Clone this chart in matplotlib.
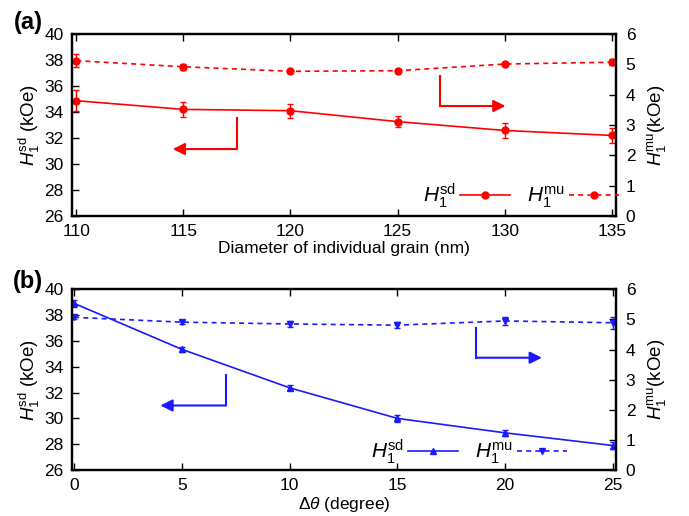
import matplotlib
matplotlib.use("Agg")
from matplotlib import pyplot as plt
from matplotlib.lines import Line2D

plt.rcParams['font.family'] = ['Liberation Sans', 'DejaVu Sans']
plt.rcParams['mathtext.fontset'] = 'custom'
plt.rcParams['mathtext.rm'] = 'Liberation Sans'
plt.rcParams['mathtext.it'] = 'Liberation Sans:italic'

# (a) diameter of individual grain
diam = [110, 115, 120, 125, 130, 135]
sd_a = [34.87, 34.2, 34.1, 33.26, 32.58, 32.2]
sd_a_err = [0.8, 0.55, 0.55, 0.45, 0.6, 0.6]
mu_a = [5.12, 4.92, 4.77, 4.79, 5.01, 5.07]
mu_a_err = [0.22, 0.1, 0.07, 0.07, 0.08, 0.1]

# (b) delta theta
dtheta = [0, 5, 10, 15, 20, 25]
sd_b = [38.91, 35.35, 32.37, 30.0, 28.88, 27.9]
sd_b_err = [0.25, 0.2, 0.2, 0.3, 0.25, 0.3]
mu_b = [5.07, 4.91, 4.85, 4.81, 4.95, 4.89]
mu_b_err = [0.05, 0.06, 0.1, 0.1, 0.12, 0.2]

# arrows: (corner x, top y, bottom y, tip x) in data coords of the left axis
arrows_a = [(117.5, 33.54, 31.15, 114.5), (126.97, 36.77, 34.46, 130.04)]
arrows_b = [(7.05, 33.36, 31.0, 4.0), (18.67, 37.02, 34.7, 21.71)]

red = '#ff0000'
blue = '#1a1aff'
dash = (0, (3, 2.5))

fig = plt.figure(figsize=(6.89, 5.16), dpi=100)


def panel(rect, x, sd, sde, mu, mue, col, m1, m2, xlim, xticks, xlabel, tag, tag_y, arrows, leg_xy):
    ax = fig.add_axes(rect)
    ax2 = ax.twinx()
    ax.errorbar(x, sd, yerr=sde, color=col, marker=m1, ms=5, lw=1.2,
                capsize=2.5, elinewidth=1.0, capthick=1.0)
    ax2.errorbar(x, mu, yerr=mue, color=col, marker=m2, ms=5, lw=1.2, ls=dash,
                 capsize=2.5, elinewidth=1.0, capthick=1.0)
    for (xc, yt, yb, xt) in arrows:
        ax.plot([xc, xc], [yt, yb], color=col, lw=1.5)
        ax.annotate('', xy=(xt, yb), xytext=(xc, yb),
                    arrowprops=dict(arrowstyle='-|>', color=col, lw=1.5,
                                    mutation_scale=18, shrinkA=0, shrinkB=0))
    ax.set_xlim(*xlim)
    ax.set_ylim(26, 40)
    ax.set_yticks(range(26, 41, 2))
    ax.set_xticks(xticks)
    ax2.set_ylim(0, 6)
    ax2.set_yticks(range(0, 7))
    ax.tick_params(direction='in', top=True, labelsize=12.5, length=5, width=1, pad=6)
    ax2.tick_params(direction='in', labelsize=12.5, length=5, width=1, pad=7)
    for a in (ax, ax2):
        for s in a.spines.values():
            s.set_linewidth(1.6)
    ax.set_xlabel(xlabel, fontsize=12.5, labelpad=1)
    ax.set_ylabel(r'$H_1^{\rm sd}$ (kOe)', fontsize=13.5, labelpad=2)
    ax2.set_ylabel(r'$H_1^{\rm mu}$(kOe)', fontsize=13.5, labelpad=7)
    fig.text(0.041, tag_y, tag, fontsize=17, fontweight='bold', ha='center', va='center')
    h1 = Line2D([], [], color=col, marker=m1, ms=5, lw=1.2)
    h2 = Line2D([], [], color=col, marker=m2, ms=5, lw=1.2, ls=dash)
    ax2.legend([h1, h2], [r'$H_1^{\rm sd}$', r'$H_1^{\rm mu}$'], loc='center',
               bbox_to_anchor=leg_xy, ncol=2, frameon=False, markerfirst=False,
               fontsize=15, handlelength=2.4, columnspacing=0.8, handletextpad=0.2)
    return ax


panel([0.1045, 0.5814, 0.7896, 0.3527], diam, sd_a, sd_a_err, mu_a, mu_a_err, red, 'o', 'o',
      (109.8, 135.2), [110, 115, 120, 125, 130, 135], 'Diameter of individual grain (nm)',
      '(a)', 0.957, arrows_a, (0.825, 0.11))
panel([0.1045, 0.0891, 0.7896, 0.3502], dtheta, sd_b, sd_b_err, mu_b, mu_b_err, blue, '^', 'v',
      (-0.1, 25.15), [0, 5, 10, 15, 20, 25], r'$\Delta\theta$ (degree)',
      '(b)', 0.455, arrows_b, (0.73, 0.10))

fig.savefig('out.png', dpi=100)
